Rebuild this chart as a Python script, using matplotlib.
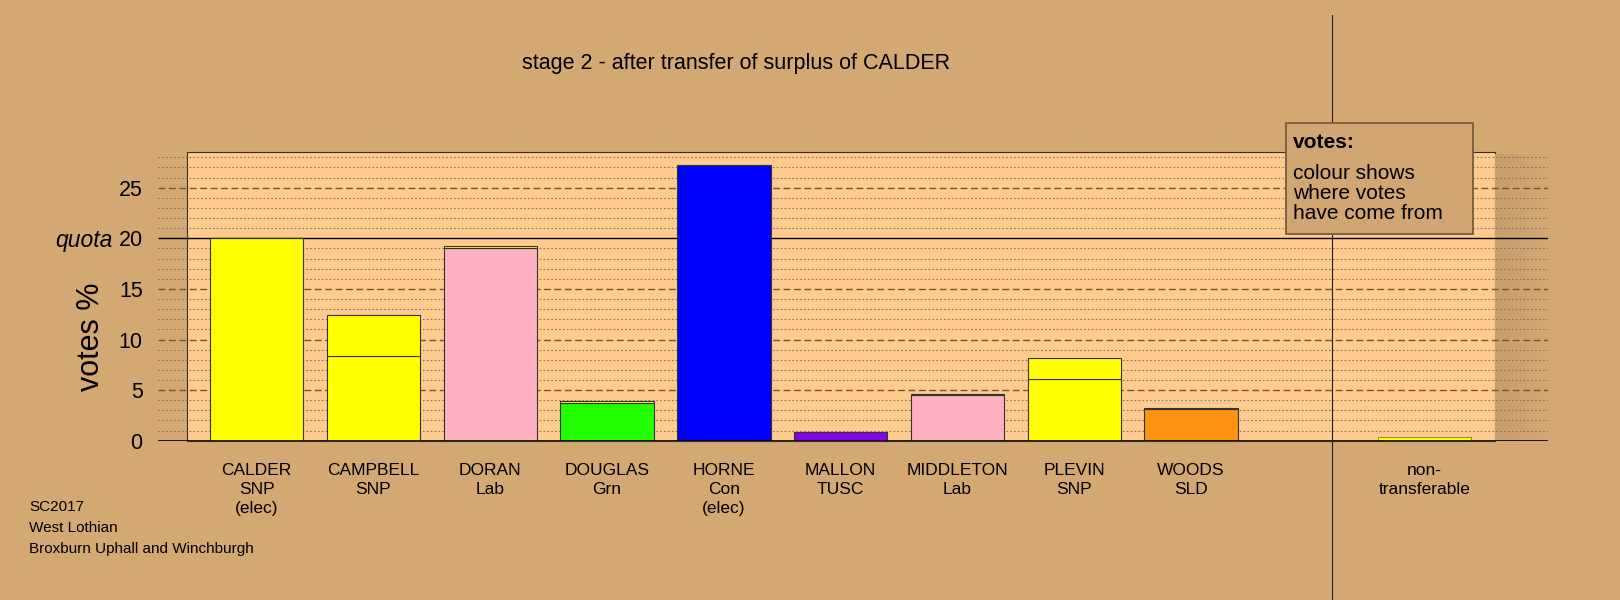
import numpy as np
import matplotlib
matplotlib.use("Agg")
import matplotlib.pyplot as plt
from matplotlib.patches import Rectangle
from matplotlib.lines import Line2D
from matplotlib.colors import LinearSegmentedColormap

plt.rcParams['font.family'] = ['Liberation Sans', 'DejaVu Sans']

# data
candidates = ["CALDER", "CAMPBELL", "DORAN", "DOUGLAS", "HORNE", "MALLON", "MIDDLETON", "PLEVIN", "WOODS"]
parties = ["SNP", "SNP", "Lab", "Grn", "Con", "TUSC", "Lab", "SNP", "SLD"]
status = ["(elec)", "", "", "", "(elec)", "", "", "", ""]
own_votes = [20.0, 8.34, 19.07, 3.72, 27.24, 0.83, 4.50, 6.07, 3.15]
from_calder = [0.0, 4.11, 0.17, 0.23, 0.0, 0.03, 0.08, 2.13, 0.08]
non_transferable = 0.32
quota = 20
yticks = [0, 5, 10, 15, 20, 25]

party_colours = {"SNP": "#FFFF00", "Lab": "#FFB0C1", "Grn": "#22FF00", "Con": "#0000FF",
                 "TUSC": "#8800EE", "SLD": "#FF9410"}
calder_colour = party_colours["SNP"]

bg = "#D4A873"
peach = "#FFCB8F"
W, H = 1620, 600


def fx(px):
    return px / W


def fy(py):
    return 1 - py / H


fig = plt.figure(figsize=(16.2, 6), dpi=100, facecolor=bg)
ax = fig.add_axes([fx(158), fy(440.7), 1390 / W, 289 / H])
ax.set_facecolor("none")
ax.set_xlim(-0.845, 11.056)
ax.set_ylim(0, 28.56)
for s in ax.spines.values():
    s.set_visible(False)
ax.set_xticks([])
ax.set_yticks(yticks)
ax.set_yticklabels([str(t) for t in yticks], fontsize=15.5)
ax.tick_params(axis="y", length=0, pad=11)

x0, x1 = -0.845, 11.056
# lighter plotting box
ax.add_patch(Rectangle((-0.6, 0), 11.2, 28.56, fc=peach, ec="#3a2a1a", lw=0.8, zorder=0, clip_on=False))
# shaded strip on the right
grad = np.linspace(0, 1, 50).reshape(1, -1)
cm = LinearSegmentedColormap.from_list("sh", ["#C79E6E", bg])
ax.imshow(grad, extent=(10.6, x1, 0, 28.3), aspect="auto", cmap=cm, zorder=0.5)

# grid lines
for v in range(1, 29):
    if v == quota:
        continue
    if v % 5 == 0:
        ax.hlines(v, x0, x1, colors="#7a5530", lw=1.0, linestyles=(0, (5, 2.5)), zorder=1)
    else:
        ax.hlines(v, x0, x1, colors="#8a7460", lw=0.8, linestyles=(0, (1.5, 2)), zorder=1)
ax.hlines(quota, x0, x1, colors="black", lw=1.0, zorder=1.5)
ax.hlines(0, x0, x1, colors="black", lw=1.2, zorder=3)

# bars
pos = np.arange(len(candidates))
own_cols = [party_colours[p] for p in parties]
ax.bar(pos, own_votes, width=0.8, color=own_cols, edgecolor="#333333", lw=0.8, zorder=2)
ax.bar(pos, from_calder, bottom=own_votes, width=0.8, color=calder_colour, edgecolor="#333333", lw=0.8, zorder=2)
ax.bar([10], [non_transferable], width=0.8, color=calder_colour, edgecolor="#6a6a20", lw=0.5, zorder=2)

# candidate labels
for p, c, pt, st in zip(pos, candidates, parties, status):
    for i, line in enumerate([c, pt, st]):
        if line:
            ax.text(p, -2.96 - 1.88 * i, line, ha="center", va="center", fontsize=12.5, clip_on=False)
ax.text(10, -2.96, "non-", ha="center", va="center", fontsize=12.5, clip_on=False)
ax.text(10, -4.84, "transferable", ha="center", va="center", fontsize=12.5, clip_on=False)

# left side text
fig.text(fx(113), fy(440.7 - 20 * 10.12 + 2), "quota", ha="right", va="center", fontsize=16.5, style="italic")
fig.text(fx(90.8), fy(337), "votes %", rotation=90, ha="center", va="center", fontsize=22)

fig.text(fx(735.8), fy(64), "stage 2 - after transfer of surplus of CALDER", ha="center", va="center", fontsize=15.5)

for txt, y in zip(["SC2017", "West Lothian", "Broxburn Uphall and Winchburgh"], [506.7, 527.7, 549]):
    fig.text(fx(29.3), fy(y), txt, ha="left", va="center", fontsize=11)

# separator line for non-transferable
fig.add_artist(Line2D([fx(1332.3), fx(1332.3)], [fy(14.5), fy(600)], color="#222222", lw=0.8, zorder=4))

# legend box
fig.add_artist(Rectangle((fx(1285.7), fy(234.3)), (1473.3 - 1285.7) / W, (234.3 - 122.7) / H,
                         transform=fig.transFigure, fc="#D2A672", ec="#7a5c3a", lw=1.3, zorder=5))
fig.text(fx(1293.3), fy(148.3), "votes:", ha="left", va="baseline", fontsize=15, weight="bold", zorder=6)
for txt, y in zip(["colour shows", "where votes", "have come from"], [179, 199, 219]):
    fig.text(fx(1293.3), fy(y), txt, ha="left", va="baseline", fontsize=15, zorder=6)

fig.savefig("out.png", dpi=100, facecolor=bg)
